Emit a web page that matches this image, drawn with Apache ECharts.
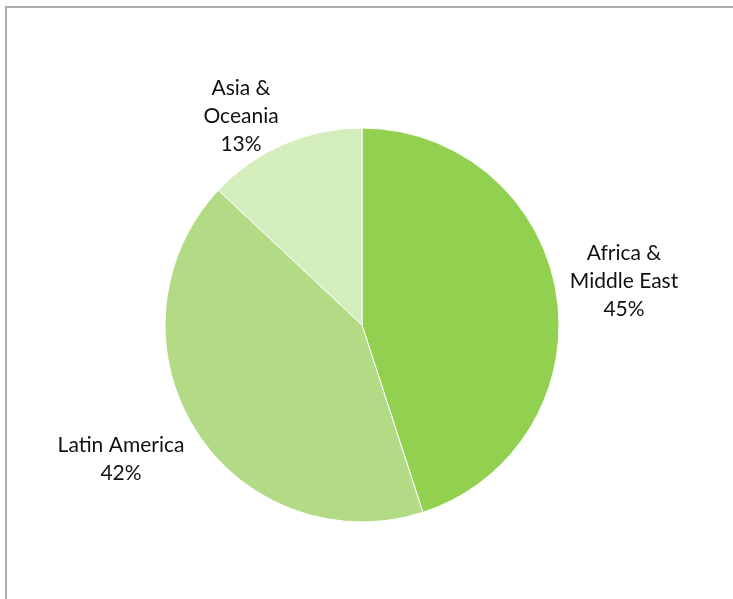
<!DOCTYPE html>
<html>
<head>
<meta charset="utf-8">
<script src="https://cdn.jsdelivr.net/npm/echarts@6/dist/echarts.min.js"></script>
<style>
  html, body { margin: 0; padding: 0; background: #fff; }
  #frame { position: absolute; left: 5px; top: 6px; width: 728px; height: 593px;
           border-left: 2px solid #ababab; border-top: 2px solid #ababab; box-sizing: border-box; }
  #chart { position: absolute; left: 0; top: 0; width: 733px; height: 599px; }
</style>
</head>
<body>
<div id="frame"></div>
<div id="chart"></div>
<script>
// Regional share
const regions = ['Africa &\nMiddle East', 'Latin America', 'Asia &\nOceania'];
const shares = [45, 42, 13];
const sliceColors = ['#92D050', '#B3DB85', '#D4EDBC'];

// Label anchor points (centre of each text block)
const labelAnchors = [[624, 281], [121, 459], [241, 116]];

const chart = echarts.init(document.getElementById('chart'), null, { renderer: 'canvas' });
chart.setOption({
  backgroundColor: 'transparent',
  animation: false,
  series: [{
    type: 'pie',
    center: [362, 325],
    radius: 197,
    startAngle: 90,
    clockwise: true,
    data: regions.map((name, i) => ({
      name: name,
      value: shares[i],
      itemStyle: { color: sliceColors[i] }
    })),
    itemStyle: { borderColor: '#ffffff', borderWidth: 1 },
    label: {
      show: true,
      position: 'outside',
      formatter: p => p.name + '\n' + p.value + '%',
      fontFamily: 'Lato',
      fontSize: 21,
      lineHeight: 28,
      color: '#111111',
      align: 'center'
    },
    labelLine: { show: false },
    labelLayout: params => ({
      x: labelAnchors[params.dataIndex][0],
      y: labelAnchors[params.dataIndex][1],
      align: 'center',
      verticalAlign: 'middle'
    }),
    emphasis: { disabled: true }
  }]
});
</script>
</body>
</html>
